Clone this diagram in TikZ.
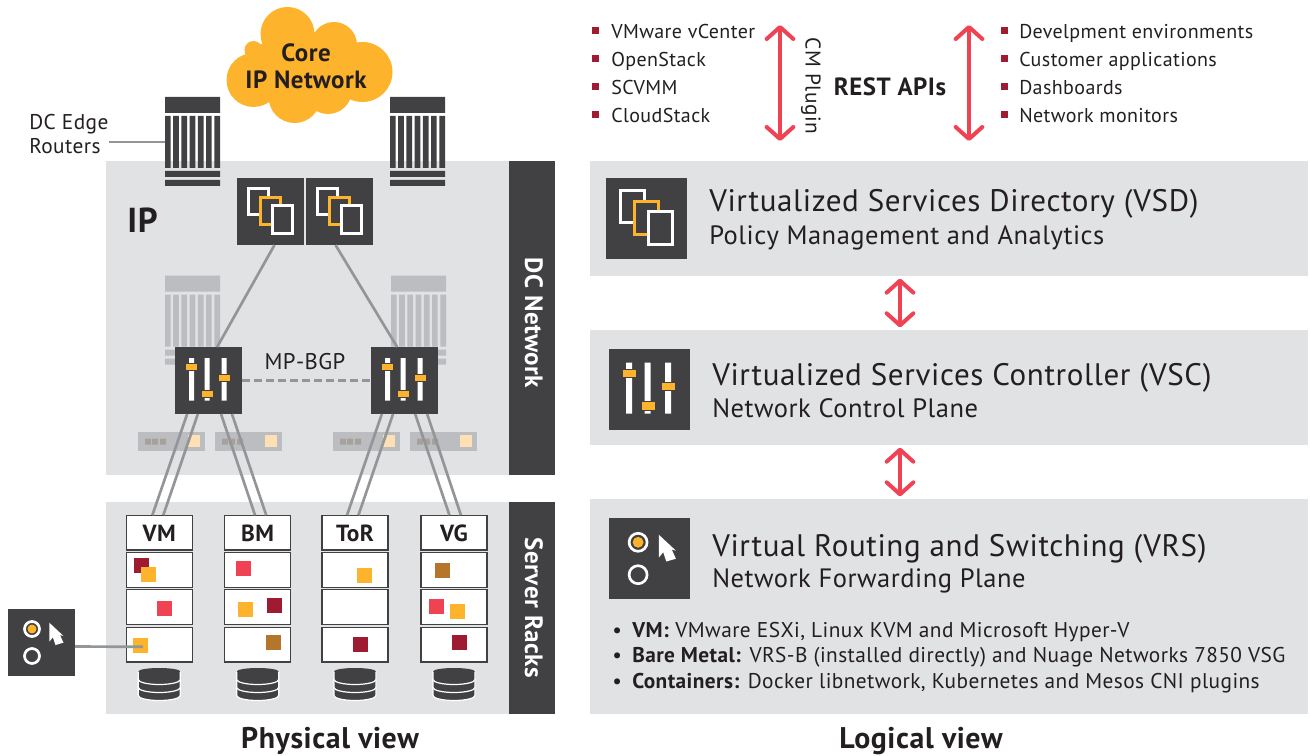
\documentclass[tikz,border=0pt]{standalone}
\usepackage{fontspec}
\setmainfont{PT Sans}[LetterSpace=2.0]
\usetikzlibrary{arrows.meta}
\definecolor{darkbox}{HTML}{414042}
\definecolor{panelgrey}{HTML}{E1E2E4}
\definecolor{linegrey}{HTML}{939598}
\definecolor{amber}{HTML}{FDB32B}
\definecolor{redsq}{HTML}{EF4354}
\definecolor{wine}{HTML}{9E1B32}
\definecolor{brownsq}{HTML}{B5752A}
\definecolor{inktext}{HTML}{231F20}
\definecolor{fadegrey}{HTML}{BCBDC0}
\definecolor{fadedot}{HTML}{A7A19C}
\definecolor{fadeamber}{HTML}{FFE0B5}
\newcommand\sizept[1]{\fontsize{#1}{1.2em}\selectfont}
\tikzset{
  panel/.style={fill=panelgrey,inner sep=0,outer sep=0},
  strip/.style={fill=darkbox,minimum width=34.5pt,inner sep=0,outer sep=0},
  boxsmall/.style={fill=darkbox,minimum size=50.25pt,inner sep=0,outer sep=0},
  boxlarge/.style={fill=darkbox,minimum size=60.75pt,inner sep=0,outer sep=0},
  rackcell/.style={draw=darkbox,line width=1pt,fill=white,minimum width=49.5pt,minimum height=26pt,inner sep=0,outer sep=0,text=inktext},
  rackhead/.style={rackcell,text height=14pt,font=\bfseries\sizept{17.5}},
  sqamber/.style={fill=amber,minimum size=11.25pt,inner sep=0},
  sqred/.style={fill=redsq,minimum size=11.25pt,inner sep=0},
  sqwine/.style={fill=wine,minimum size=11.25pt,inner sep=0},
  sqbrown/.style={fill=brownsq,minimum size=11.25pt,inner sep=0},
  bullet/.style={fill=wine,minimum size=5.25pt,inner sep=0},
  linkline/.style={draw=linegrey,line width=2pt},
  redarrow/.style={draw=redsq,line width=3pt,line cap=round,{Straight Barb[round,length=9pt,width=20pt,line width=3pt]}-{Straight Barb[round,length=9pt,width=20pt,line width=3pt]}},
  titletext/.style={anchor=base west,inner sep=0,text=inktext,font=\sizept{23.3}},
  subtext/.style={anchor=base west,inner sep=0,text=inktext,font=\sizept{19.9}},
  listtext/.style={anchor=base west,inner sep=0,text=inktext,font=\sizept{15}},
  vrstext/.style={anchor=base west,inner sep=0,text=inktext,font=\sizept{16}},
  boldtext/.style={inner sep=0,text=inktext,font=\bfseries\sizept{#1}},
  routerpic/.pic={
    \path[pic actions] (-27.5,-44.5) rectangle (27.5,-28.5)
      (-27.5,29.5) rectangle (27.5,35.5) (-27.5,38.5) rectangle (27.5,44.5)
      (-27.5,-25.5) rectangle (-21.8,26.5) (-19.3,-25.5) rectangle (-13.6,26.5)
      (-11.1,-25.5) rectangle (-5.4,26.5) (-2.9,-25.5) rectangle (2.8,26.5)
      (5.3,-25.5) rectangle (11,26.5) (13.5,-25.5) rectangle (19.2,26.5)
      (21.8,-25.5) rectangle (27.5,26.5);
  },
  % faded small rectangle under the switches
  hostpic/.pic={
    \fill[fill=fadegrey] (-33.5,-9.5) rectangle (33.5,9.5);
    \fill[fill=fadeamber] (16.5,-6.5) rectangle (28.5,5.5);
    \fill[fill=fadedot] (-26.5,-3) rectangle (-20.5,3) (-19.5,-3) rectangle (-13.5,3) (-11.5,-3) rectangle (-5.5,3);
  },
  pagespic/.pic={
    \filldraw[draw=white,fill=darkbox,line width=2.3pt] (-26,-28) rectangle (-2,4);
    \filldraw[draw=amber,fill=darkbox,line width=2.3pt] (-12,-17) rectangle (12,16);
    \filldraw[draw=white,fill=darkbox,line width=2.3pt] (2,-7) rectangle (26,26);
  },
  sliderpic/.pic={
    \fill[white] (-19.5,-22.5) rectangle (-14.5,20) (-4,-22.5) rectangle (1,20) (13,-22.5) rectangle (18,20);
    \filldraw[draw=darkbox,fill=amber,line width=.5pt] (-23,-17) rectangle (-11,-10);
    \filldraw[draw=darkbox,fill=amber,line width=.5pt] (-7,10) rectangle (5,17);
    \filldraw[draw=darkbox,fill=amber,line width=.5pt] (9.5,-6) rectangle (21.5,1);
  },
  cursorpic/.pic={
    \draw[white,line width=2pt] (-9.5,-13.5) circle[radius=7.5];
    \fill[amber] (-9.5,-13.5) circle[radius=4.5];
    \draw[white,line width=2pt] (-9.5,13.5) circle[radius=7.5];
    \fill[white] (7.8,-19.8) -- (22,-6.5) -- (18.5,-7.5) -- (22,.2) -- (14,2.5) -- (11.4,-5.2) -- (7.8,-.8) -- cycle;
  },
  diskpic/.pic={
    \path[fill=darkbox,draw=white,line width=.9pt] (-21,3) -- (-21,11) arc[start angle=180,end angle=0,x radius=21,y radius=5] -- (21,3) -- cycle;
    \path[fill=darkbox,draw=white,line width=.9pt] (-21,-5) -- (-21,3) arc[start angle=180,end angle=0,x radius=21,y radius=5] -- (21,-5) -- cycle;
    \path[fill=darkbox,draw=white,line width=.9pt] (-21,-13) -- (-21,-5) arc[start angle=180,end angle=0,x radius=21,y radius=5] -- (21,-13) -- cycle;
    \fill[darkbox] (0,-13) ellipse[x radius=21,y radius=3.5];
  }
}
\begin{document}
\begin{tikzpicture}[x=0.75pt,y=-0.75pt]
\useasboundingbox (0,0) rectangle (1310,756);

% to draw the grey panels
\node [panel,minimum width=302.25pt,minimum height=235.5pt] (dcpanel) at (307.5,318) {};
\node [panel,minimum width=302.25pt,minimum height=159pt] (srvpanel) at (307.5,608) {};
\node [strip,minimum height=235.5pt] (dcstrip) at (532,318) {};
\node [strip,minimum height=159pt] (srvstrip) at (532,608) {};
\node [panel,minimum width=538.5pt,minimum height=86.25pt] (vsdpanel) at (949,218.5) {};
\node [panel,minimum width=538.5pt,minimum height=86.25pt] (vscpanel) at (949,387.5) {};
\node [panel,minimum width=538.5pt,minimum height=161.25pt] (vrspanel) at (949,606.5) {};

%Cloud:
\fill[amber] (287.5,34) circle[radius=27] (334,45) circle[radius=23] (362.5,72) circle[radius=30]
  (253.5,80) circle[radius=27] (253.5,50) circle[radius=9] (294.6,97) circle[radius=26]
  (328,90) circle[radius=24] (308,70) circle[radius=36] (262,58) circle[radius=14];
\node [inner sep=0,text=inktext,align=center,font=\bfseries\fontsize{18.7}{20.25}\selectfont] (coretext) at (306,66) {Core\\IP Network};

% to draw routers
\pic[fill=fadegrey] at (192.5,320) {routerpic};
\pic[fill=fadegrey] at (418.5,320) {routerpic};
\pic[fill=darkbox] at (192.5,141.5) {routerpic};
\pic[fill=darkbox] at (417.5,141.5) {routerpic};
\node [minimum width=41.25pt,minimum height=66.75pt,inner sep=0,outer sep=0] (edgel) at (192.5,141.5) {};
\node [anchor=west,align=left,inner sep=0,text=inktext,font=\fontsize{16}{18}\selectfont] (edgetext) at (29,134) {DC Edge\\Routers};
\coordinate (edgefree) at (109,142);
\draw [linkline] (edgefree) -- (edgel.west |- edgefree);

% faded hosts
\pic at (171.5,441.5) {hostpic};
\pic at (248.5,441.5) {hostpic};
\pic at (366.5,441.5) {hostpic};
\pic at (443.5,441.5) {hostpic};

% to write the dark boxes of the DC network
\node [boxsmall] (vsda) at (270.5,211.5) {};
\node [boxsmall] (vsdb) at (339.5,211.5) {};
\node [boxsmall] (swl) at (208.5,380.5) {};
\node [boxsmall] (swr) at (404.5,380.5) {};
\node [boxsmall] (vrsleft) at (41.5,642.5) {};
\pic[scale=.83] at (vsda) {pagespic};
\pic[scale=.83] at (vsdb) {pagespic};
\pic at (swl) {sliderpic};
\pic at (swr) {sliderpic};
\pic at (vrsleft) {cursorpic};
\node [boldtext=26,anchor=west] (iptext) at (127,220) {IP};
\node [inner sep=0,text=inktext,font=\sizept{17}] (bgptext) at (305,362) {MP-BGP};

% racks: header and three rows
\node [rackhead] (vmh) at (159.3,532.5) {VM};
\node [rackcell] (vma) at (159.3,570) {};
\node [rackcell] (vmb) at (159.3,607) {};
\node [rackcell] (vmc) at (159.3,644.5) {};
\node [rackhead] (bmh) at (257.7,532.5) {BM};
\node [rackcell] (bma) at (257.7,570) {};
\node [rackcell] (bmb) at (257.7,607) {};
\node [rackcell] (bmc) at (257.7,644.5) {};
\node [rackhead] (torh) at (355,532.5) {ToR};
\node [rackcell] (tora) at (355,570) {};
\node [rackcell] (torb) at (355,607) {};
\node [rackcell] (torc) at (355,644.5) {};
\node [rackhead] (vgh) at (454,532.5) {VG};
\node [rackcell] (vga) at (454,570) {};
\node [rackcell] (vgb) at (454,607) {};
\node [rackcell] (vgc) at (454,644.5) {};

% to draw the coloured squares
\node [sqwine] (vmsqa) at (141.5,565.5) {};
\node [sqamber] (vmsqb) at (148.5,574.5) {};
\node [sqred] (vmsqc) at (164.5,608.5) {};
\node [sqamber] (vmsqd) at (140.5,645.5) {};
\node [sqred] (bmsqa) at (243.5,568.5) {};
\node [sqamber] (bmsqb) at (245.5,609.5) {};
\node [sqwine] (bmsqc) at (274.5,605.5) {};
\node [sqbrown] (bmsqd) at (273.5,642.5) {};
\node [sqamber] (torsqa) at (364.5,575.5) {};
\node [sqwine] (torsqb) at (360.5,644.5) {};
\node [sqbrown] (vgsqa) at (442.5,570.5) {};
\node [sqred] (vgsqb) at (436.5,606.5) {};
\node [sqamber] (vgsqc) at (457.5,611.5) {};
\node [sqwine] (vgsqd) at (459.5,642.5) {};

% to draw disks under racks
\pic at (159.3,684.5) {diskpic};
\pic at (257.7,684.5) {diskpic};
\pic at (355,684.5) {diskpic};
\pic at (454,684.5) {diskpic};

% to draw links
\draw [linkline] ([xshift=3pt]vsda.south) -- ([xshift=6.5pt]swl.north);
\draw [linkline] ([xshift=-3pt]vsdb.south) -- ([xshift=-5.5pt]swr.north);
\draw [linkline,dashed,dash pattern=on 6pt off 3pt] (swl) -- (swr);
\draw [linkline] ([xshift=-16pt]swl.south) -- ([xshift=-5.2pt]vmh.north);
\draw [linkline] ([xshift=-8pt]swl.south) -- ([xshift=3pt]vmh.north);
\draw [linkline] ([xshift=9.4pt]swl.south) -- ([xshift=-2pt]bmh.north);
\draw [linkline] ([xshift=17.6pt]swl.south) -- ([xshift=6.4pt]bmh.north);
\draw [linkline] ([xshift=-17pt]swr.south) -- ([xshift=-6pt]torh.north);
\draw [linkline] ([xshift=-8.6pt]swr.south) -- ([xshift=2.6pt]torh.north);
\draw [linkline] ([xshift=8pt]swr.south) -- ([xshift=-3.4pt]vgh.north);
\draw [linkline] ([xshift=17pt]swr.south) -- ([xshift=5.2pt]vgh.north);
\draw [linkline] ([yshift=-3pt]vrsleft.east) -- ([xshift=2pt,yshift=-1pt]vmsqd.center);

% strips text
\node [boldtext=18.8,text=white,rotate=-90] (dctext) at (534,323) {DC Network};
\node [boldtext=18.8,text=white,rotate=-90] (srvtext) at (534,608) {Server Racks};
\node [boldtext=22.4] (phytext) at (330,741) {Physical view};
\node [boldtext=22.4] (logtext) at (921,741) {Logical view};

%Logical side, upper lists:
\node [bullet] (cmba) at (595,31) {};
\node [bullet] (cmbb) at (595,59) {};
\node [bullet] (cmbc) at (595,87) {};
\node [bullet] (cmbd) at (595,115) {};
\node [listtext] (cmta) at (611,38.5) {VMware vCenter};
\node [listtext] (cmtb) at (611,66.5) {OpenStack};
\node [listtext] (cmtc) at (611,94.5) {SCVMM};
\node [listtext] (cmtd) at (611,122.5) {CloudStack};
\node [bullet] (apiba) at (1004,31) {};
\node [bullet] (apibb) at (1004,59) {};
\node [bullet] (apibc) at (1004,87) {};
\node [bullet] (apibd) at (1004,115) {};
\node [listtext] (apita) at (1019,38.5) {Develpment environments};
\node [listtext] (apitb) at (1019,66.5) {Customer applications};
\node [listtext] (apitc) at (1019,94.5) {Dashboards};
\node [listtext] (apitd) at (1019,122.5) {Network monitors};
\node [inner sep=0,text=inktext,font=\sizept{16},rotate=-90] (cmtext) at (811,86) {CM Plugin};
\node [boldtext=18.7] (resttext) at (890,87) {REST APIs};

% to draw red arrows
\coordinate (cmtop) at (780,25);
\coordinate (cmbot) at (780,141);
\coordinate (apitop) at (969,25);
\coordinate (apibot) at (969,141);
\draw [redarrow] (cmtop) -- (cmbot);
\draw [redarrow] (apitop) -- (apibot);
\draw [redarrow] ([xshift=-36.75pt,yshift=-2pt]vsdpanel.south) -- ([xshift=-36.75pt,yshift=2pt]vscpanel.north);
\draw [redarrow] ([xshift=-36.75pt,yshift=-2pt]vscpanel.south) -- ([xshift=-36.75pt,yshift=2pt]vrspanel.north);

%Logical side, three layers:
\node [boxlarge] (vsdicon) at (646.5,218.5) {};
\node [boxlarge] (vscicon) at (649.5,389.5) {};
\node [boxlarge] (vrsicon) at (649.5,558.5) {};
\pic at (vsdicon) {pagespic};
\pic[scale=1.2] at (vscicon) {sliderpic};
\pic[scale=1.2] at (vrsicon) {cursorpic};
\node [titletext] (vsdtitle) at (709,211) {Virtualized Services Directory (VSD)};
\node [subtext] (vsdsub) at (709,244) {Policy Management and Analytics};
\node [titletext] (vsctitle) at (712,385) {Virtualized Services Controller (VSC)};
\node [subtext] (vscsub) at (712,417) {Network Control Plane};
\node [titletext] (vrstitle) at (712,556) {Virtual Routing and Switching (VRS)};
\node [subtext] (vrssub) at (712,587) {Network Forwarding Plane};
\node [vrstext] (vrsda) at (612,637.5) {•};
\node [vrstext] (vrsdb) at (612,662.5) {•};
\node [vrstext] (vrsdc) at (612,688.5) {•};
\node [vrstext] (vrsta) at (632,637.5) {\textbf{VM:} VMware ESXi, Linux KVM and Microsoft Hyper-V};
\node [vrstext] (vrstb) at (632,662.5) {\textbf{Bare Metal:} VRS-B (installed directly) and Nuage Networks 7850 VSG};
\node [vrstext] (vrstc) at (632,688.5) {\textbf{Containers:} Docker libnetwork, Kubernetes and Mesos CNI plugins};
\end{tikzpicture}
\end{document}
